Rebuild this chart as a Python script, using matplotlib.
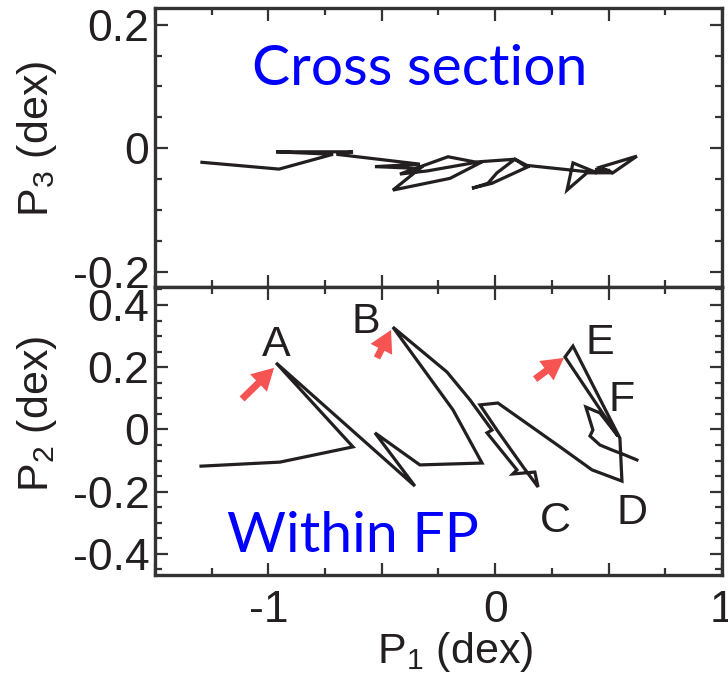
import matplotlib
matplotlib.use('Agg')
import matplotlib.pyplot as plt
from matplotlib.ticker import MultipleLocator, FuncFormatter

plt.rcParams['font.family'] = 'Liberation Sans'
plt.rcParams['mathtext.default'] = 'regular'
plt.rcParams['axes.unicode_minus'] = False

# cross section track (P1, P3)
p1_cs = [-1.293, -0.953, -0.715, -0.966, -0.627, -0.700, -0.332, -0.530, -0.332,
         -0.451, -0.199, -0.067, -0.208, -0.420, -0.300, -0.067, 0.087, 0.140,
         -0.014, -0.102, -0.032, 0.008, 0.087, 0.140, 0.449, 0.343, 0.317, 0.405,
         0.519, 0.462, 0.625, 0.519, 0.440, 0.500]
p3_cs = [-0.023, -0.034, -0.010, -0.006, -0.006, -0.010, -0.026, -0.030, -0.033,
         -0.068, -0.049, -0.024, -0.014, -0.042, -0.037, -0.022, -0.018, -0.031,
         -0.057, -0.065, -0.057, -0.040, -0.018, -0.028, -0.040, -0.024, -0.068, -0.040,
         -0.040, -0.031, -0.013, -0.040, -0.035, -0.036]

# within FP track (P1, P2)
p1_fp = [-1.297, -0.949, -0.627, -0.966, -0.354, -0.530, -0.332, -0.058, -0.186,
         -0.451, -0.213, -0.111, -0.014, -0.036, 0.096, 0.078, 0.175, 0.189,
         0.127, 0.008, -0.067, 0.012, 0.286, 0.427, 0.559, 0.550, 0.343, 0.308,
         0.541, 0.462, 0.400, 0.431, 0.418, 0.462, 0.515, 0.572, 0.625]
p2_fp = [-0.118, -0.105, -0.056, 0.214, -0.182, -0.011, -0.114, -0.108, 0.063,
         0.329, 0.185, 0.095, -0.002, -0.011, -0.130, -0.143, -0.137, -0.185,
         -0.124, -0.002, 0.079, 0.085, -0.056, -0.130, -0.166, -0.028, 0.268, 0.233,
         -0.021, 0.053, 0.072, -0.002, -0.021, -0.050, -0.066, -0.082, -0.098]

point_names = ['A', 'B', 'C', 'D', 'E', 'F']
name_x = [-0.966, -0.570, 0.264, 0.603, 0.462, 0.559]
name_y = [0.272, 0.345, -0.294, -0.269, 0.278, 0.095]

arrow_x0 = [-1.116, -0.521, 0.176]
arrow_y0 = [0.098, 0.230, 0.162]
arrow_x1 = [-0.975, -0.459, 0.303]
arrow_y1 = [0.198, 0.320, 0.230]

ink = '#231f20'
fig = plt.figure(figsize=(7.28, 6.83), dpi=100)
ax1 = fig.add_axes([0.2129, 0.5798, 0.7788, 0.4085])
ax2 = fig.add_axes([0.2129, 0.1581, 0.7788, 0.4217])

ax1.plot(p1_cs, p3_cs, color=ink, lw=2.3, solid_joinstyle='miter')
ax2.plot(p1_fp, p2_fp, color=ink, lw=2.3, solid_joinstyle='miter')

fmt = FuncFormatter(lambda v, p: '0' if abs(v) < 1e-9 else '%g' % v)
for ax in (ax1, ax2):
    ax.set_xlim(-1.5, 1.0)
    ax.xaxis.set_major_locator(MultipleLocator(0.5))
    ax.xaxis.set_minor_locator(MultipleLocator(0.25))
    ax.yaxis.set_minor_locator(MultipleLocator(0.05))
    ax.yaxis.set_major_locator(MultipleLocator(0.2))
    ax.tick_params(which='both', direction='in', top=True, right=True,
                   width=1.6, color='#333333', labelsize=32, labelcolor=ink)
    ax.tick_params(which='major', length=9)
    ax.tick_params(which='minor', length=5)
    ax.tick_params(axis='y', pad=4)
    ax.tick_params(axis='x', pad=11)
    ax.yaxis.set_major_formatter(fmt)
    ax.xaxis.set_major_formatter(FuncFormatter(
        lambda v, p: ('0' if abs(v) < 1e-9 else '%g' % v) if abs(v - round(v)) < 1e-9 else ''))
    for s in ax.spines.values():
        s.set_linewidth(2.4)
        s.set_color('#333333')

ax1.set_ylim(-0.225, 0.227)
ax2.set_ylim(-0.468, 0.458)
ax1.tick_params(axis='x', labelbottom=False)

ax1.set_ylabel('P$_3$ (dex)', fontsize=31, color=ink)
ax2.set_ylabel('P$_2$ (dex)', fontsize=31, color=ink)
ax1.yaxis.set_label_coords(-0.17, 0.53)
ax2.yaxis.set_label_coords(-0.17, 0.56)
ax2.set_xlabel('P$_1$ (dex)', fontsize=31, color=ink)
ax2.xaxis.set_label_coords(0.53, -0.19)

ax1.text(-0.332, 0.102, 'Cross section', color='blue', fontsize=41,
         family='Lato', ha='center', va='baseline')
ax2.text(-0.627, -0.394, 'Within FP', color='blue', fontsize=41,
         family='Lato', ha='center', va='baseline')

for n, x, y in zip(point_names, name_x, name_y):
    ax2.text(x, y, n, fontsize=31, color=ink, ha='center', va='center')

for x0, y0, x1, y1 in zip(arrow_x0, arrow_y0, arrow_x1, arrow_y1):
    ax2.annotate('', xy=(x1, y1), xytext=(x0, y0),
                 arrowprops=dict(arrowstyle='simple,head_length=1.3,head_width=1.45,tail_width=0.42',
                                 mutation_scale=12, color='#f65353', lw=0,
                                 shrinkA=0, shrinkB=0))

fig.savefig('out.png', dpi=100)
